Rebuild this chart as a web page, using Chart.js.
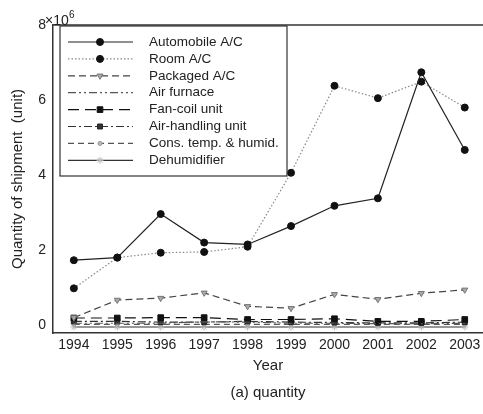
<!DOCTYPE html>
<html>
<head>
<meta charset="utf-8">
<script src="https://cdn.jsdelivr.net/npm/chart.js@4/dist/chart.umd.min.js"></script>
<style>
  html, body { margin: 0; padding: 0; background: #fff; }
  #wrap { width: 483px; height: 414px; position: relative; }
</style>
</head>
<body>
<div id="wrap"><canvas id="chart"></canvas></div>
<script>
// values in units of 10^6
const years = [1994, 1995, 1996, 1997, 1998, 1999, 2000, 2001, 2002, 2003];
const yTicks = [0, 2, 4, 6, 8];

const automobileAC = [1.73, 1.80, 2.96, 2.20, 2.15, 2.64, 3.18, 3.38, 6.74, 4.67];
const roomAC       = [0.98, 1.80, 1.93, 1.95, 2.09, 4.06, 6.38, 6.05, 6.49, 5.80];
const packagedAC   = [0.20, 0.67, 0.72, 0.86, 0.50, 0.45, 0.82, 0.69, 0.85, 0.94];
const airFurnace   = [0.05, 0.05, 0.05, 0.09, 0.08, 0.05, 0.05, 0.04, 0.04, 0.05];
const fanCoil      = [0.19, 0.19, 0.20, 0.20, 0.15, 0.15, 0.17, 0.10, 0.10, 0.15];
const airHandling  = [0.10, 0.10, 0.08, 0.08, 0.10, 0.08, 0.07, 0.06, 0.06, 0.08];
const consTemp     = [0.02, 0.02, 0.02, 0.02, 0.02, 0.02, 0.02, 0.02, 0.02, 0.02];
const dehumidifier = [-0.05, -0.05, -0.05, -0.05, -0.05, -0.05, -0.05, -0.05, -0.05, -0.05];

const FONT = "'Liberation Sans', Arial, sans-serif";

function pts(arr) {
    return years.map((y, i) => ({ x: y, y: arr[i] }));
}

function series(label, arr, color, dash, pStyle, pRadius, pFill, pBorder, rot) {
    return {
        label: label,
        data: pts(arr),
        borderColor: color,
        borderWidth: 1.2,
        borderDash: dash,
        pointStyle: pStyle,
        pointRadius: pRadius,
        pointRotation: rot || 0,
        pointBackgroundColor: pFill,
        pointBorderColor: pBorder,
        pointBorderWidth: 1,
        tension: 0,
        fill: false,
        clip: false
    };
}

const datasets = [
    series("Automobile A/C", automobileAC, "#222", [], "circle", 3.5, "#111", "#111"),
    series("Room A/C", roomAC, "#888", [1.5, 2], "circle", 3.5, "#111", "#111"),
    series("Packaged A/C", packagedAC, "#444", [7, 4], "triangle", 3.5, "#aaa", "#777", 180),
    series("Air furnace", airFurnace, "#555", [8, 3, 2, 3, 2, 3], "circle", 0, "#555", "#555"),
    series("Fan-coil unit", fanCoil, "#111", [11, 6], "rect", 4, "#111", "#111"),
    series("Air-handling unit", airHandling, "#333", [8, 3, 2, 3], "rect", 3.5, "#333", "#222"),
    series("Cons. temp. & humid.", consTemp, "#555", [6, 4], "circle", 2, "#bbb", "#999"),
    series("Dehumidifier", dehumidifier, "#333", [], "star", 3.5, "#ccc", "#bbb")
];

const framePlugin = {
    id: "frame",
    afterDraw(chart) {
        const ctx = chart.ctx;
        const a = chart.chartArea;
        ctx.save();
        // top border
        ctx.strokeStyle = "#333";
        ctx.lineWidth = 1.5;
        ctx.beginPath();
        ctx.moveTo(a.left, a.top);
        ctx.lineTo(chart.width, a.top);
        ctx.stroke();

        // exponent label
        ctx.fillStyle = "#222";
        ctx.textBaseline = "middle";
        ctx.textAlign = "left";
        ctx.font = "14px " + FONT;
        ctx.fillText("\u00d710", 45, 21);
        ctx.font = "10px " + FONT;
        ctx.fillText("6", 69, 15);

        // legend box
        const bx = 60, by = 26, bw = 227, bh = 150;
        ctx.fillStyle = "#fff";
        ctx.fillRect(bx, by, bw, bh);
        ctx.strokeStyle = "#333";
        ctx.lineWidth = 1.2;
        ctx.strokeRect(bx, by, bw, bh);

        chart.data.datasets.forEach((ds, i) => {
            const y = 42 + i * 16.9;
            ctx.strokeStyle = ds.borderColor;
            ctx.lineWidth = ds.borderWidth;
            ctx.setLineDash(ds.borderDash);
            ctx.beginPath();
            ctx.moveTo(68, y);
            ctx.lineTo(133, y);
            ctx.stroke();
            ctx.setLineDash([]);
            if (ds.pointRadius > 0) {
                ctx.fillStyle = ds.pointBackgroundColor;
                ctx.strokeStyle = ds.pointBorderColor;
                ctx.lineWidth = 1;
                Chart.helpers.drawPoint(ctx, {
                    pointStyle: ds.pointStyle,
                    radius: ds.pointRadius,
                    rotation: ds.pointRotation,
                    borderWidth: 1
                }, 100, y);
            }
            ctx.fillStyle = "#222";
            ctx.font = "13.5px " + FONT;
            ctx.textAlign = "left";
            ctx.fillText(ds.label, 149, y);
        });
        ctx.restore();
    }
};

new Chart(document.getElementById("chart"), {
    type: "line",
    data: { datasets: datasets },
    options: {
        responsive: true,
        maintainAspectRatio: false,
        animation: false,
        layout: { autoPadding: false, padding: { top: 25, right: 0, left: 0, bottom: 0 } },
        plugins: {
            legend: { display: false },
            tooltip: { enabled: false }
        },
        scales: {
            x: {
                type: "linear",
                min: 1993.52,
                max: 2003.42,
                afterBuildTicks: s => { s.ticks = years.map(v => ({ value: v })); },
                afterFit: s => { s.height = 81; s.paddingRight = 0; s.paddingLeft = 0; },
                grid: { display: false, drawTicks: true, tickLength: 3 },
                border: { display: true, color: "#333", width: 1.5 },
                ticks: {
                    color: "#222",
                    font: { family: FONT, size: 14 },
                    padding: 1,
                    maxRotation: 0,
                    autoSkip: false,
                    callback: v => String(v)
                },
                title: {
                    display: true,
                    text: ["Year", "(a) quantity"],
                    color: "#222",
                    font: { family: FONT, size: 15, lineHeight: 1.8 },
                    padding: { top: 0, bottom: 8 }
                }
            },
            y: {
                min: -0.21,
                max: 8,
                afterBuildTicks: s => { s.ticks = yTicks.map(v => ({ value: v })); },
                afterFit: s => { s.width = 53; },
                grid: { display: false, drawTicks: true, tickLength: 5 },
                border: { display: true, color: "#333", width: 1.5 },
                ticks: {
                    color: "#222",
                    font: { family: FONT, size: 14 },
                    padding: 2
                },
                title: {
                    display: true,
                    text: "Quantity of shipment  (unit)",
                    color: "#222",
                    font: { family: FONT, size: 15 },
                    padding: { top: 9, bottom: 0 }
                }
            }
        }
    },
    plugins: [framePlugin]
});
</script>
</body>
</html>
